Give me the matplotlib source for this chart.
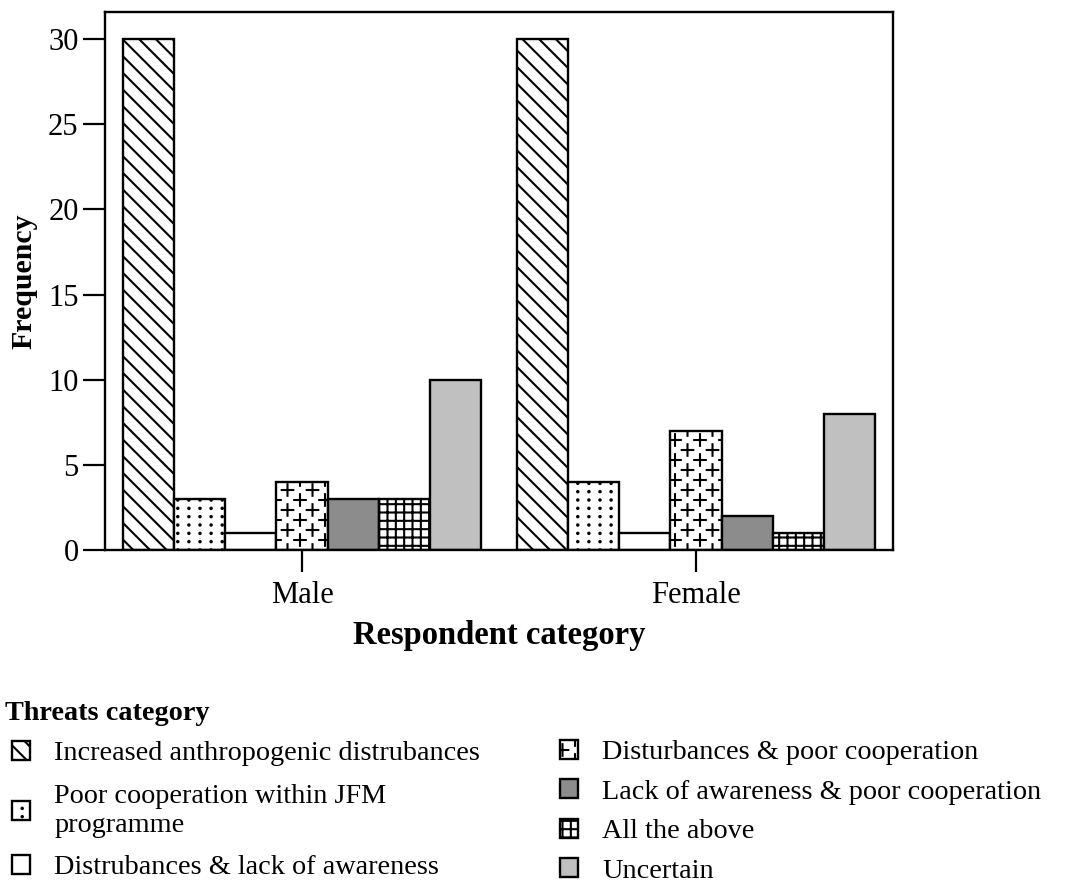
import numpy as np
import matplotlib
matplotlib.use("Agg")
import matplotlib.pyplot as plt
import matplotlib.hatch as mhatch
from matplotlib.path import Path

# ---------------- data ----------------
groups = ["Male", "Female"]
threats = [
    "Increased anthropogenic distrubances",
    "Poor cooperation within JFM\nprogramme",
    "Distrubances & lack of awareness",
    "Disturbances & poor cooperation",
    "Lack of awareness & poor cooperation",
    "All the above",
    "Uncertain",
]
male_counts = [30, 3, 1, 4, 3, 3, 10]
female_counts = [30, 4, 1, 7, 2, 1, 8]
y_ticks = [0, 5, 10, 15, 20, 25, 30]

# ---------------- custom hatch patterns ----------------
class _PlusHatch(mhatch.HatchPatternBase):
    """Discrete plus signs on a staggered lattice (uses '*')."""
    def __init__(self, hatch, density):
        self.centers = []
        if hatch.count('*'):
            nx, ny = 4, 10
            for j in range(ny + 1):
                y = j / ny
                if j % 2 == 0:
                    xs = [k / nx for k in range(nx + 1)]
                else:
                    xs = [(k + 0.5) / nx for k in range(nx)]
                for x in xs:
                    self.centers.append((x, y))
        self.num_vertices = 4 * len(self.centers)

    def set_vertices_and_codes(self, vertices, codes):
        a = 0.058
        i = 0
        for (x, y) in self.centers:
            vertices[i:i + 4] = [(x - a, y), (x + a, y), (x, y - a), (x, y + a)]
            codes[i:i + 4] = [Path.MOVETO, Path.LINETO, Path.MOVETO, Path.LINETO]
            i += 4


class _DotHatch(mhatch.HatchPatternBase):
    """Small dots on an aligned grid (uses '.')."""
    def __init__(self, hatch, density):
        self.centers = []
        if hatch.count('.'):
            nx, ny = 9, 12
            for j in range(ny + 1):
                for k in range(nx + 1):
                    self.centers.append((k / nx, j / ny))
        self.num_vertices = 9 * len(self.centers)

    def set_vertices_and_codes(self, vertices, codes):
        r = 0.007
        ang = np.linspace(0, 2 * np.pi, 9)[:-1]
        circ = np.column_stack([np.cos(ang), np.sin(ang)]) * r
        i = 0
        for (x, y) in self.centers:
            vertices[i:i + 8] = circ + (x, y)
            vertices[i + 8] = (x + r, y)
            codes[i] = Path.MOVETO
            codes[i + 1:i + 8] = Path.LINETO
            codes[i + 8] = Path.CLOSEPOLY
            i += 9


_ht = mhatch._hatch_types
_ht[_ht.index(mhatch.Stars)] = _PlusHatch
_ht[_ht.index(mhatch.SmallFilledCircles)] = _DotHatch

# ---------------- style ----------------
plt.rcParams['font.family'] = ['Liberation Serif', 'DejaVu Serif']
plt.rcParams['hatch.linewidth'] = 1.5
plt.rcParams['hatch.color'] = 'black'

hatches = ['\\\\', '.', '', '*', '', '++', '']
faces = ['white', 'white', 'white', 'white', '#8c8c8c', 'white', '#c0c0c0']

fig = plt.figure(figsize=(10.8, 8.85), dpi=100)
ax = fig.add_axes([105 / 1080, 1 - 550 / 885, 788 / 1080, 538 / 885])

x = np.arange(len(groups))
width = 0.13
n = len(threats)
handles = []
for i, t in enumerate(threats):
    vals = [male_counts[i], female_counts[i]]
    bars = ax.bar(x + (i - (n - 1) / 2) * width, vals, width,
                  facecolor=faces[i], edgecolor='black', linewidth=1.7,
                  hatch=hatches[i], label=t, zorder=2)
    handles.append(bars)

ax.set_xlim(-0.5, 1.5)
ax.set_ylim(0, 31.6)
ax.set_yticks(y_ticks)
ax.set_xticks(x)
ax.set_xticklabels(groups)
ax.tick_params(axis='both', direction='out', length=16, width=1.6,
               labelsize=22, pad=3)
ax.tick_params(axis='x', pad=6)
for s in ax.spines.values():
    s.set_linewidth(1.7)

ax.set_ylabel("Frequency", fontsize=21.5, fontweight='bold')
ax.yaxis.set_label_coords((37 - 105) / 788, 0.5)
ax.set_xlabel("Respondent category", fontsize=23.5, fontweight='bold')
ax.xaxis.set_label_coords(0.5, (550 - 620) / 538)

# ---------------- legend ----------------
fig.text(5 / 1080, 1 - 713 / 885, "Threats category", fontsize=20.3,
         fontweight='bold', va='center', ha='left')

leg_kw = dict(loc='upper left', frameon=False, borderpad=0, borderaxespad=0,
              handlelength=0.65, handleheight=0.65, handletextpad=0.85,
              prop={'size': 20.3})
leg1 = fig.legend(handles[:3], threats[:3], labelspacing=0.62,
                  bbox_to_anchor=(12 / 1080, 1 - 741 / 885), **leg_kw)
leg2 = fig.legend(handles[3:], threats[3:], labelspacing=0.5,
                  bbox_to_anchor=(560 / 1080, 1 - 740 / 885), **leg_kw)
for t in leg1.get_texts():
    t.set_linespacing(1.2)

fig.savefig("out.png", dpi=100, facecolor='white')
